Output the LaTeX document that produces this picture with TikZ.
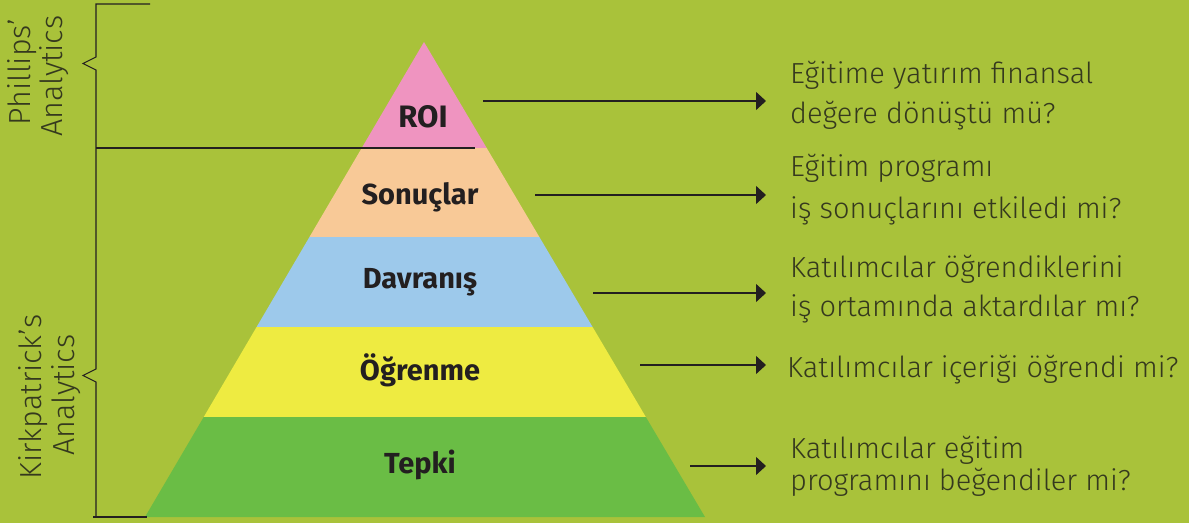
\documentclass[tikz,border=0pt]{standalone}
\usepackage{fontspec}
\setmainfont{Fira Sans}
\newfontfamily\lightf{Fira Sans Light}
\usetikzlibrary{arrows.meta}
\definecolor{bg}{HTML}{A9C23A}
\definecolor{cRoi}{HTML}{EF94C0}
\definecolor{cSon}{HTML}{F8C997}
\definecolor{cDav}{HTML}{9DC9EB}
\definecolor{cOgr}{HTML}{EEEB41}
\definecolor{cTep}{HTML}{6ABD45}
\definecolor{ink}{HTML}{35391E}
\definecolor{lab}{HTML}{231F20}
\tikzset{
  lvl/.style={font=\fontsize{29}{32}\selectfont\bfseries, text=lab, inner sep=0pt},
  qtext/.style={font=\lightf\fontsize{29}{32}\selectfont, text=ink, inner sep=0pt, anchor=base west},
  side/.style={font=\lightf\fontsize{30.5}{34}\selectfont, text=ink, inner sep=0pt, rotate=90},
  arr/.style={draw=lab, line width=1.3pt, -{Triangle[length=10pt,width=18pt]}},
  brace/.style={draw=lab, line width=1.1pt}
}
\begin{document}
\begin{tikzpicture}[x=1pt,y=-1pt]
\fill[bg] (0,0) rectangle (1189,523);
\useasboundingbox (0,0) rectangle (1189,523);
% pyramid
\begin{scope}
\clip (424,42) -- (705,517) -- (145,517) -- cycle;
\fill[cRoi] (100,30) rectangle (750,148);
\fill[cSon] (100,148) rectangle (750,237);
\fill[cDav] (100,237) rectangle (750,327);
\fill[cOgr] (100,327) rectangle (750,417);
\fill[cTep] (100,417) rectangle (750,520);
\end{scope}
% level labels
\node[lvl, font=\fontsize{31}{34}\selectfont\bfseries] (roi) at (423,117) {ROI};
\node[lvl] (son) at (420,197) {Sonuçlar};
\node[lvl] (dav) at (420,282) {Davranış};
\node[lvl] (ogr) at (420,370) {Öğrenme};
\node[lvl] (tep) at (420,465) {Tepki};
% brackets
\draw[brace] (150,4) -- (96,4) -- (96,57) -- (83,63.5) -- (96,70) -- (96,369) -- (83,375.5) -- (96,382) -- (96,517);
\draw[brace] (96,148) -- (475,148);
\draw[brace] (93,517) -- (147,517);
\node[side] (ph) at (22,72) {Phillips’};
\node[side] (pa) at (54,76) {Analytics};
\node[side] (ka) at (33,397) {Kirkpatrick’s};
\node[side] (kb) at (66,395) {Analytics};
% arrows
\coordinate (a1s) at (483,101); \coordinate (a1e) at (766,101);
\coordinate (a2s) at (535,195); \coordinate (a2e) at (766,195);
\coordinate (a3s) at (593,293); \coordinate (a3e) at (766,293);
\coordinate (a4s) at (640,365); \coordinate (a4e) at (766,365);
\coordinate (a5s) at (690,466); \coordinate (a5e) at (766,466);
\draw[arr] (a1s) -- (a1e);
\draw[arr] (a2s) -- (a2e);
\draw[arr] (a3s) -- (a3e);
\draw[arr] (a4s) -- (a4e);
\draw[arr] (a5s) -- (a5e);
% questions
\node[qtext] (q1a) at (790,83) {Eğitime yatırım finansal};
\node[qtext] (q1b) at (790,123) {değere dönüştü mü?};
\node[qtext] (q2a) at (790,176) {Eğitim programı};
\node[qtext] (q2b) at (790,218) {iş sonuçlarını etkiledi mi?};
\node[qtext] (q3a) at (790,277) {Katılımcılar öğrendiklerini};
\node[qtext] (q3b) at (790,316) {iş ortamında aktardılar mı?};
\node[qtext] (q4a) at (787,377) {Katılımcılar içeriği öğrendi mi?};
\node[qtext] (q5a) at (790,458) {Katılımcılar eğitim};
\node[qtext] (q5b) at (790,490) {programını beğendiler mi?};
\end{tikzpicture}
\end{document}
